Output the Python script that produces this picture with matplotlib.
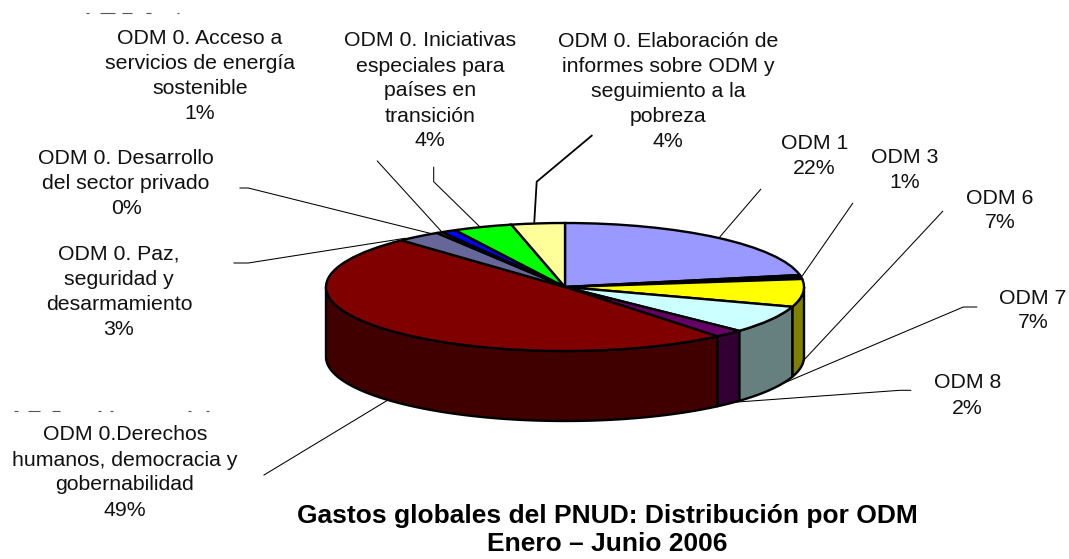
import numpy as np
import matplotlib
matplotlib.use("Agg")
import matplotlib.pyplot as plt
from matplotlib.patches import Polygon
from matplotlib.transforms import Affine2D

# ---- data ----
categories = [
    "ODM 1", "ODM 3", "ODM 6", "ODM 7", "ODM 8",
    "ODM 0.Derechos\nhumanos, democracia y\ngobernabilidad",
    "ODM 0. Paz,\nseguridad y\ndesarmamiento",
    "ODM 0. Desarrollo\ndel sector privado",
    "ODM 0. Acceso a\nservicios de energía\nsostenible",
    "ODM 0. Iniciativas\nespeciales para\npaíses en\ntransición",
    "ODM 0. Elaboración de\ninformes sobre ODM y\nseguimiento a la\npobreza",
]
values = [22, 1, 7, 7, 2, 49, 3, 0.4, 1, 4, 3.6]
pct_labels = ["22%", "1%", "7%", "7%", "2%", "49%", "3%", "0%", "1%", "4%", "4%"]
top_colors = ["#9999FF", "#000000", "#FFFF00", "#CCFFFF", "#660066", "#800000",
              "#666699", "#FF6600", "#0000FF", "#00FF00", "#FFFF99"]
side_colors = ["#4D4D80", "#000000", "#808000", "#668080", "#330033", "#400000",
               "#333350", "#803300", "#000080", "#008000", "#808050"]
title_lines = "Gastos globales del PNUD: Distribución por ODM\nEnero – Junio 2006"

# ---- layout (pixels of the 1069x559 figure) ----
W, H = 1069, 559
CX, CY, RX, RY, DEPTH = 565, 287, 239, 64, 70
label_pos = [(814.5, 156), (905, 170), (1000, 210.5), (1033, 310.5), (967.5, 395.5), (125, 472.5),
             (119, 292), (126, 183.5), (200, 76), (430, 91), (668, 91.5)]
leaders = [
    [(760.7, 189.3), (720, 236.7)],
    [(852.7, 203.3), (801.7, 276.7)],
    [(942.7, 211.3), (803.3, 360.7)],
    [(976.7, 307), (963.3, 307), (783.3, 383.3)],
    [(910.7, 390.3), (900, 390.3), (733.3, 402.3)],
    [(264, 475), (388, 400)],
    [(234, 263), (248.3, 263), (405, 238.3)],
    [(240, 188), (248.3, 188), (430, 233.3)],
    [(377.3, 161), (440.7, 230.7)],
    [(433.7, 167.3), (433.7, 181.7), (479, 226)],
    [(591.7, 135.7), (536.7, 181.7), (534.3, 221.7)],
]
leader_widths = [0.75] * 10 + [1.3]
# leftover slivers of cropped text in the source image (x0, x1, y)
slivers = [(86, 89, 13), (100, 115, 13), (122, 132, 13), (146, 151, 13), (177, 179, 13),
           (14, 18, 411), (28, 40, 411), (52, 60, 411), (98, 101, 411), (110, 113, 411),
           (188, 191, 411), (206, 209, 411)]

plt.rcParams["font.family"] = ["Liberation Sans", "DejaVu Sans"]
fig = plt.figure(figsize=(W / 100, H / 100), dpi=100, facecolor="white")
ax = fig.add_axes([0, 0, 1, 1])

wedges, _ = ax.pie(values, colors=top_colors, startangle=90, counterclock=False,
                   wedgeprops=dict(edgecolor="black", linewidth=1.7, zorder=5))
ax.set_aspect("auto")
ax.set_xlim((0 - CX) / RX, (W - CX) / RX)
ax.set_ylim((CY - H) / RY, CY / RY)
ax.axis("off")

# side wall, derived from each wedge's angles: only the front half is visible
depth = DEPTH / RY
for w, c in zip(wedges, side_colors):
    a, b = max(w.theta1, -180), min(w.theta2, 0)
    if b <= a:
        continue
    t = np.radians(np.linspace(a, b, 80))
    xs, ys = np.cos(t), np.sin(t)
    pts = np.r_[np.c_[xs, ys], np.c_[xs[::-1], ys[::-1] - depth]]
    ax.add_patch(Polygon(pts, closed=True, facecolor=c, edgecolor="black",
                         linewidth=1.7, joinstyle="round", zorder=3))

px = Affine2D().scale(1 / W, -1 / H).translate(0, 1) + fig.transFigure

for pts, lw in zip(leaders, leader_widths):
    xs, ys = zip(*pts)
    ax.plot(xs, ys, color="black", lw=lw, transform=px, zorder=6, clip_on=False)

for x0, x1, y in slivers:
    ax.plot([x0, x1], [y, y], color="#555555", lw=0.8, transform=px, zorder=2,
            solid_capstyle="butt", clip_on=False)

for cat, pct, (x, y) in zip(categories, pct_labels, label_pos):
    ax.text(x, y, f"{cat}\n{pct}", transform=px, ha="center", va="center",
            fontsize=15.3, linespacing=1.40, color="#111111", zorder=7, clip_on=False)

ax.text(607, 530, title_lines, transform=px, ha="center", va="center",
        fontsize=19, fontweight="bold", linespacing=1.19, color="black", zorder=7, clip_on=False)

fig.savefig("out.png", dpi=100, facecolor="white")
